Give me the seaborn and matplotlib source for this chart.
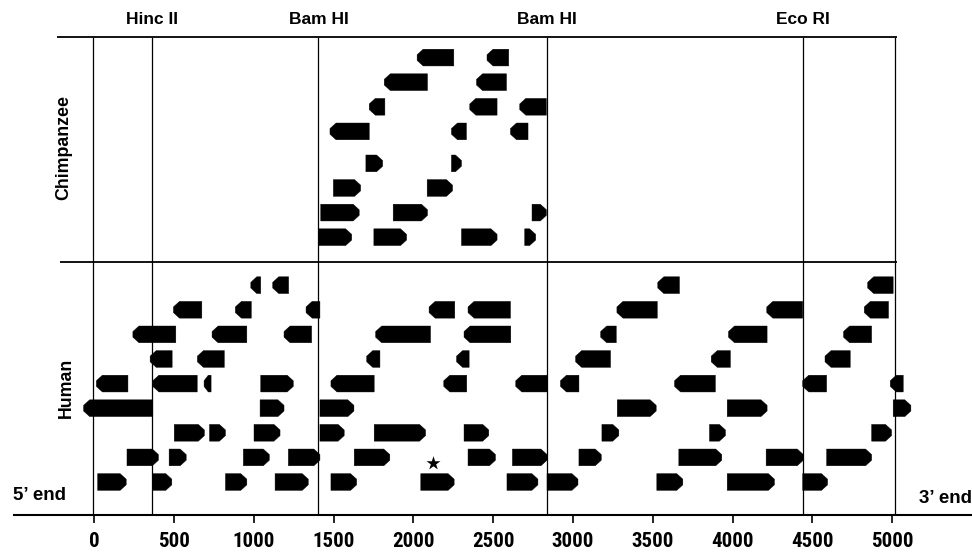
import matplotlib
matplotlib.use("Agg")
import matplotlib.pyplot as plt
import seaborn as sns
import pandas as pd
from matplotlib import font_manager

# ---------------- data (base pairs) ----------------
site_pos = [-10, 360, 1405, 2838, 4440, 5020]
site_labels = ["", "Hinc II", "Bam HI", "Bam HI", "Eco RI", ""]
tick_values = [0, 500, 1000, 1500, 2000, 2500, 3000, 3500, 4000, 4500, 5000]

# Human rows (1 = bottom); (start, end, direction)  L = leftward, R = rightward
human_row1 = [(21, 200, "R"), (367, 486, "R"), (822, 956, "R"), (1133, 1341, "R"),
              (1483, 1644, "R"), (2046, 2255, "R"), (2586, 2780, "R"), (2837, 3031, "R"),
              (3525, 3688, "R"), (3966, 4262, "R"), (4439, 4595, "R")]
human_row2 = [(205, 402, "R"), (469, 576, "R"), (934, 1097, "R"), (1216, 1414, "R"),
              (1629, 1852, "R"), (2342, 2514, "R"), (2620, 2837, "R"), (3037, 3177, "R"),
              (3663, 3932, "R"), (4210, 4443, "R"), (4589, 4871, "R")]
human_row3 = [(501, 690, "R"), (722, 822, "R"), (1001, 1164, "R"), (1414, 1566, "R"),
              (1754, 2076, "R"), (2317, 2472, "R"), (3181, 3287, "R"), (3855, 3955, "R"),
              (4871, 4996, "R")]
human_row4 = [(-67, 367, "L"), (1039, 1189, "R"), (1414, 1627, "R"), (3277, 3521, "R"),
              (3966, 4216, "R"), (5006, 5117, "R")]
human_row5 = [(13, 211, "L"), (367, 645, "L"), (688, 732, "L"), (1043, 1247, "R"),
              (1483, 1754, "L"), (2190, 2334, "L"), (2641, 2837, "L"), (2921, 3037, "L"),
              (3636, 3892, "L"), (4439, 4589, "L"), (4988, 5069, "L")]
human_row6 = [(350, 488, "L"), (646, 815, "L"), (1707, 1790, "L"), (2270, 2349, "L"),
              (3016, 3235, "L"), (3866, 3986, "L"), (4579, 4737, "L")]
human_row7 = [(242, 511, "L"), (738, 956, "L"), (1189, 1362, "L"), (1763, 2107, "L"),
              (2317, 2610, "L"), (3173, 3271, "L"), (3974, 4216, "L"), (4695, 4871, "L")]
human_row8 = [(496, 674, "L"), (884, 984, "L"), (1327, 1414, "L"), (2098, 2259, "L"),
              (2342, 2608, "L"), (3275, 3528, "L"), (4214, 4439, "L"), (4825, 4977, "L")]
human_row9 = [(981, 1043, "L"), (1118, 1218, "L"), (3531, 3667, "L"), (4846, 5006, "L")]

# Chimpanzee rows (1 = bottom)
chimp_row1 = [(1408, 1613, "R"), (1752, 1957, "R"), (2301, 2524, "R"), (2697, 2766, "R")]
chimp_row2 = [(1419, 1660, "R"), (1873, 2088, "R"), (2743, 2833, "R")]
chimp_row3 = [(1498, 1669, "R"), (2086, 2245, "R")]
chimp_row4 = [(1702, 1807, "R"), (2238, 2301, "R")]
chimp_row5 = [(1477, 1723, "L"), (2238, 2332, "L"), (2608, 2718, "L")]
chimp_row6 = [(1723, 1821, "L"), (2353, 2524, "L"), (2666, 2833, "L")]
chimp_row7 = [(1817, 2088, "L"), (2395, 2583, "L")]
chimp_row8 = [(2023, 2253, "L"), (2461, 2597, "L")]

star_bp = 2124
star_row = 1.76

human_rows = [human_row1, human_row2, human_row3, human_row4, human_row5,
              human_row6, human_row7, human_row8, human_row9]
chimp_rows = [chimp_row1, chimp_row2, chimp_row3, chimp_row4,
              chimp_row5, chimp_row6, chimp_row7, chimp_row8]

records = []
for i, row in enumerate(human_rows, start=1):
    for s, e, d in row:
        records.append(dict(species="Human", row=i, start=s, end=e, dir=d))
for i, row in enumerate(chimp_rows, start=1):
    for s, e, d in row:
        records.append(dict(species="Chimpanzee", row=i, start=s, end=e, dir=d))
df = pd.DataFrame(records)

# ---------------- layout ----------------
def row_y(species, r):
    if species == "Human":
        return float(r)
    return 10.95 + (r - 1) + (0.3 if r > 4 else 0.0)

df["y"] = [row_y(s, r) for s, r in zip(df["species"], df["row"])]

sns.set_theme(style="white")
plt.rcParams["font.family"] = ["Liberation Sans", "DejaVu Sans"]

# pick a condensed family for the tick numbers if one is installed
installed = {f.name for f in font_manager.fontManager.ttflist}
narrow = None
for cand in ["Liberation Sans Narrow", "Roboto Condensed", "DejaVu Sans Condensed",
             "Open Sans Condensed", "Noto Sans Condensed"]:
    if cand in installed:
        narrow = cand
        break
tick_family = [narrow, "Liberation Sans"] if narrow else ["Liberation Sans"]
tick_size = 15 if narrow else 13.5

W, H = 972, 555
fig = plt.figure(figsize=(W / 100, H / 100), dpi=100)
ax = fig.add_axes([14 / W, 40 / H, 958 / W, 515 / H])
ax.set_xlim(-503, 5500)
ax.set_ylim(-0.341, 20.59)

ARROW_H = 0.68
TIP = 38

def draw_arrow(a, b, y, d):
    lo, hi = min(a, b), max(a, b)
    tt = min(TIP, 0.6 * (hi - lo))
    hh = ARROW_H / 2
    ht = ARROW_H * 0.17
    ys = [y - hh, y - hh, y - ht, y + ht, y + hh, y + hh]
    if d == "R":
        xs = [lo, hi - tt, hi, hi, hi - tt, lo]
    else:
        xs = [hi, lo + tt, lo, lo, lo + tt, hi]
    ax.fill(xs, ys, color="black", lw=0.3, edgecolor="black")

for _, r in df.iterrows():
    draw_arrow(r["start"], r["end"], r["y"], r["dir"])

# frame lines
TOP_Y = 19.09
DIV_Y = 9.94
ax.vlines(site_pos, -0.341, TOP_Y, color="black", lw=0.9)
ax.hlines(TOP_Y, -232, 5030, color="black", lw=1.3)
ax.hlines(DIV_Y, -213, 5030, color="black", lw=1.3)

sns.scatterplot(x=[star_bp], y=[star_row], marker="*", s=110, color="black",
                linewidth=0, ax=ax, legend=False)

# axes styling
for side in ["left", "right", "top"]:
    ax.spines[side].set_visible(False)
ax.spines["bottom"].set_linewidth(1.5)
ax.spines["bottom"].set_color("black")
ax.set_yticks([])
ax.set_xticks(tick_values)
ax.set_xticklabels([str(v) for v in tick_values],
                   fontdict=dict(family=tick_family, weight="bold", size=tick_size))
ax.tick_params(axis="x", direction="out", length=6, width=1.2, pad=6,
               colors="black", bottom=True)
ax.grid(False)

# labels
lab_tr = ax.get_xaxis_transform()
for x, lab in zip(site_pos, site_labels):
    if lab:
        ax.text(x, (515 - 19) / 515, lab, transform=lab_tr, ha="center", va="center",
                fontsize=12.5, fontweight="bold", color="black")

fig.text(63.5 / W, 1 - 147 / H, "Chimpanzee", rotation=90, ha="center", va="center",
         fontsize=12.8, fontweight="bold", color="black")
fig.text(66 / W, 1 - 387.5 / H, "Human", rotation=90, ha="center", va="center",
         fontsize=12.8, fontweight="bold", color="black")
fig.text(12.7 / W, 1 - 495.5 / H, "5\u2019 end", ha="left", va="center",
         fontsize=13.5, fontweight="bold", color="black")
fig.text(919 / W, 1 - 498.7 / H, "3\u2019 end", ha="left", va="center",
         fontsize=13.5, fontweight="bold", color="black")

fig.savefig("out.png", dpi=100, facecolor="white")
